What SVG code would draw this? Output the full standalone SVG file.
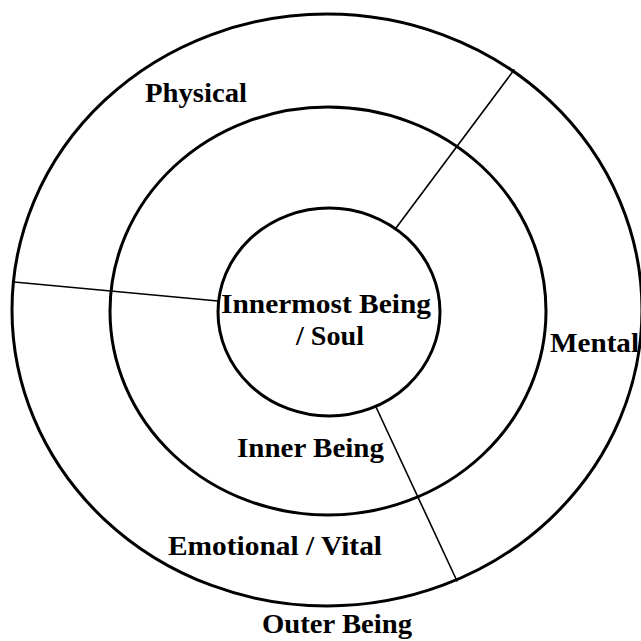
<svg xmlns="http://www.w3.org/2000/svg" width="641" height="641" viewBox="0 0 641 641">
  <style>
    .ring { fill: none; stroke: #000; stroke-width: 3; }
    .div { fill: none; stroke: #000; stroke-width: 1.6; stroke-linecap: round; }
    .lbl { font-family: "Liberation Serif", "Times New Roman", serif; font-weight: bold; font-size: 28px; fill: #000; }
  </style>
  <rect x="0" y="0" width="641" height="641" fill="#fff"/>
  <g id="outer-being">
    <ellipse class="ring" cx="327" cy="310" rx="315" ry="296"/>
    <text class="lbl" x="262" y="633" textLength="150" lengthAdjust="spacingAndGlyphs">Outer Being</text>
  </g>
  <g id="inner-being">
    <ellipse class="ring" cx="328" cy="311" rx="218" ry="204"/>
    <text class="lbl" x="237" y="457" textLength="147" lengthAdjust="spacingAndGlyphs">Inner Being</text>
  </g>
  <g id="innermost-being">
    <ellipse class="ring" cx="329" cy="312" rx="111" ry="104"/>
    <text class="lbl" x="221" y="313" textLength="210" lengthAdjust="spacingAndGlyphs">Innermost Being</text>
    <text class="lbl" x="296" y="345" textLength="68" lengthAdjust="spacingAndGlyphs">/ Soul</text>
  </g>
  <g id="physical">
    <text class="lbl" x="145" y="102" textLength="102" lengthAdjust="spacingAndGlyphs">Physical</text>
  </g>
  <g id="mental">
    <text class="lbl" x="550" y="352" textLength="89" lengthAdjust="spacingAndGlyphs">Mental</text>
  </g>
  <g id="emotional-vital">
    <text class="lbl" x="168" y="555" textLength="214" lengthAdjust="spacingAndGlyphs">Emotional / Vital</text>
  </g>
  <g id="connectors">
    <line class="div" x1="514" y1="70" x2="396" y2="228"/>
    <line class="div" x1="14" y1="282" x2="218" y2="301"/>
    <line class="div" x1="376" y1="407" x2="457" y2="581"/>
  </g>
</svg>
